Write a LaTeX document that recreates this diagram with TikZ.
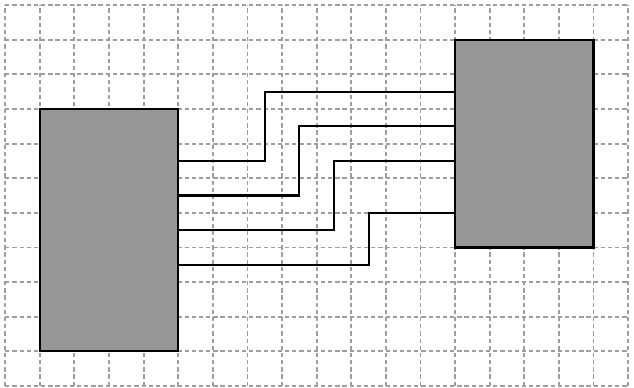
\documentclass[tikz,border=0pt]{standalone}
\usepackage{tikz}
\usetikzlibrary{positioning,calc}

\begin{document}
\begin{tikzpicture}[
    gridline/.style={black!38, line width=1.5pt, dash pattern=on 3.5pt off 2.4pt},
    block/.style={draw=black, fill=black!41, line width=2pt, inner sep=0pt, rectangle},
    wire/.style={black, line width=1.7pt}
  ]
  \useasboundingbox (-0.15,-0.06) rectangle (18.17,11.15);
  \draw[gridline] (0,0) grid (18,11);
  \node[block, minimum width=4cm, minimum height=7cm] (src) at (3,4.5) {};
  \node[block, minimum width=4cm, minimum height=6cm] (dst) at (15,7) {};
  \foreach \ys/\xm/\ye in {6.5/7.5/8.5, 5.5/8.5/7.5, 4.5/9.5/6.5, 3.5/10.5/5}
    \draw[wire] (src.east |- 0,\ys) -| (\xm,\ye) -- (dst.west |- 0,\ye);
\end{tikzpicture}
\end{document}
